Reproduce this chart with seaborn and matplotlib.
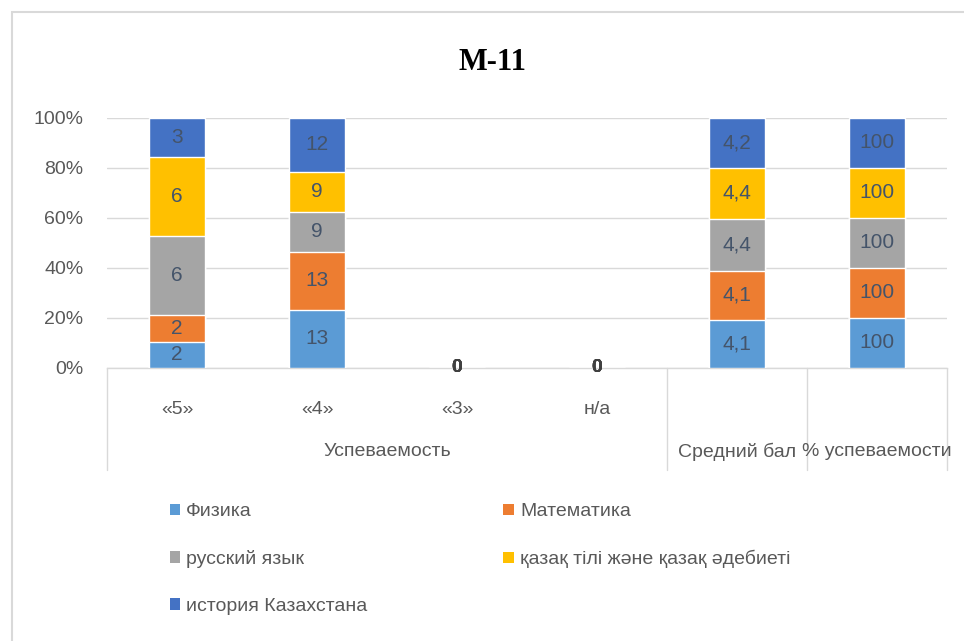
import matplotlib
matplotlib.use("Agg")
import matplotlib.pyplot as plt
import seaborn as sns
import numpy as np
import pandas as pd
from matplotlib.patches import Patch, Rectangle
from matplotlib.lines import Line2D

# ---- data ----
categories = ["«5»", "«4»", "«3»", "н/а", "Средний бал", "% успеваемости"]
tick_labels = ["«5»", "«4»", "«3»", "н/а", "", ""]
groups = ["Успеваемость", "Средний бал", "% успеваемости"]
group_spans = [(0, 3), (4, 4), (5, 5)]
subjects = ["Физика", "Математика", "русский язык",
            "қазақ тілі және қазақ әдебиеті", "история Казахстана"]
fizika = [2, 13, 0, 0, 4.1, 100]
matematika = [2, 13, 0, 0, 4.1, 100]
russkiy = [6, 9, 0, 0, 4.4, 100]
kazakh = [6, 9, 0, 0, 4.4, 100]
istoriya = [3, 12, 0, 0, 4.2, 100]
colors = ["#5B9BD5", "#ED7D31", "#A5A5A5", "#FFC000", "#4472C4"]
title = "M-11"

series = [fizika, matematika, russkiy, kazakh, istoriya]
vals = np.array(series, dtype=float)  # (5, 6)
tot = vals.sum(axis=0)
pct = np.divide(vals, tot, out=np.zeros_like(vals), where=tot > 0) * 100
cum = np.cumsum(pct, axis=0)

sns.set_theme(style="white")
plt.rcParams['font.family'] = ['Liberation Sans', 'DejaVu Sans']

fig = plt.figure(figsize=(9.64, 6.41), dpi=100)
W, H = 964, 641
ax = fig.add_axes([107 / W, 1 - 368 / H, (947 - 107) / W, (368 - 118) / H])

# frame
fig.patches.append(Rectangle((12 / W, -0.05), 1.1, 1 - 12 / H + 0.05,
                             transform=fig.transFigure, fill=False,
                             edgecolor="#D9D9D9", linewidth=1.5, zorder=0))

# stacked bars: draw cumulative from top to bottom
for i in reversed(range(len(subjects))):
    df = pd.DataFrame({"cat": categories, "val": cum[i]})
    sns.barplot(data=df, x="cat", y="val", order=categories, color=colors[i],
                width=0.4, saturation=1, ax=ax, zorder=3)

# labels
for i in range(len(subjects)):
    for j in range(len(categories)):
        v = vals[i, j]
        mid = cum[i, j] - pct[i, j] / 2
        txt = ("%g" % v).replace(".", ",")
        if v == 0:
            ax.text(j, mid, txt, ha="center", va="center", fontsize=14,
                    color="#404040", fontweight="bold", zorder=5, clip_on=False)
        else:
            ax.text(j, mid, txt, ha="center", va="center", fontsize=15,
                    color="#44546A", zorder=5)

ax.set_ylim(0, 100)
ax.set_xlim(-0.5, len(categories) - 0.5)
ax.set_yticks([0, 20, 40, 60, 80, 100])
ax.set_yticklabels([f"{t}%" for t in [0, 20, 40, 60, 80, 100]],
                   fontsize=14, color="#595959")
ax.set_xticks(range(len(categories)))
ax.set_xticklabels(tick_labels, fontsize=14, color="#595959")
ax.tick_params(axis="x", length=0, pad=24)
ax.tick_params(axis="y", length=0, pad=17)
ax.set_xlabel("")
ax.set_ylabel("")
ax.grid(axis="y", color="#D9D9D9", linewidth=1, zorder=0)
ax.set_axisbelow(True)
for s in ["top", "right", "left"]:
    ax.spines[s].set_visible(False)
ax.spines["bottom"].set_color("#D9D9D9")
ax.spines["bottom"].set_linewidth(1)

# multi-level axis
trans = ax.get_xaxis_transform()
depth = -(470 - 368) / (368 - 118)
for b in [-0.5, 3.5, 4.5, 5.5]:
    ax.add_line(Line2D([b, b], [0, depth], transform=trans, color="#D9D9D9",
                       linewidth=1, clip_on=False))
gy = -(452 - 368) / (368 - 118)
for g, (a, b) in zip(groups, group_spans):
    ax.text((a + b) / 2, gy, g, transform=trans, ha="center", va="center",
            fontsize=14, color="#595959")

fig.text(493 / W, 1 - 63 / H, title, ha="center", va="center", fontsize=22,
         fontweight="bold", family="Liberation Serif", color="black")

# legend (row-wise order)
handles = [Patch(facecolor=c, edgecolor="none") for c in colors]
order = [0, 2, 4, 1, 3]
fig.legend([handles[k] for k in order], [subjects[k] for k in order],
           ncol=2, loc="upper left", bbox_to_anchor=(152 / W, 1 - 486 / H),
           frameon=False, fontsize=14, labelcolor="#595959",
           handlelength=0.55, handleheight=0.55, handletextpad=0.3,
           columnspacing=7.0, labelspacing=1.52)

fig.savefig("out.png", dpi=100)
